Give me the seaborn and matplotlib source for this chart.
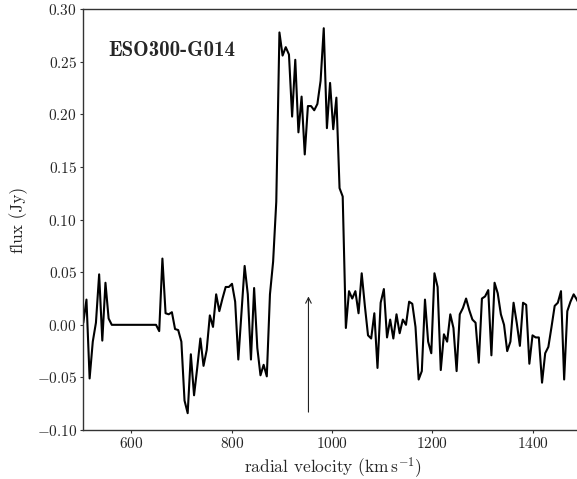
import matplotlib
matplotlib.use("Agg")
import matplotlib.pyplot as plt
import seaborn as sns
import pandas as pd

# ---- data -------------------------------------------------------------
velocity = [
    503.9, 510.2, 516.5, 522.8, 529.1, 535.5, 541.8, 548.1, 554.4, 560.7,
    567.0, 573.3, 579.6, 585.9, 592.2, 598.6, 604.9, 611.2, 617.5, 623.8,
    630.1, 636.4, 642.7, 649.0, 655.3, 661.7, 668.0, 674.3, 680.6, 686.9,
    693.2, 699.5, 705.8, 712.1, 718.4, 724.8, 731.1, 737.4, 743.7, 750.0,
    756.3, 762.6, 768.9, 775.2, 781.5, 787.9, 794.2, 800.5, 806.8, 813.1,
    819.4, 825.7, 832.0, 838.3, 844.6, 851.0, 857.3, 863.6, 869.9, 876.2,
    882.5, 888.8, 895.1, 901.4, 907.7, 914.1, 920.4, 926.7, 933.0, 939.3,
    945.6, 951.9, 958.2, 964.5, 970.8, 977.2, 983.5, 989.8, 996.1, 1002.4,
    1008.7, 1015.0, 1021.3, 1027.6, 1033.9, 1040.3, 1046.6, 1052.9, 1059.2, 1065.5,
    1071.8, 1078.1, 1084.4, 1090.7, 1097.0, 1103.4, 1109.7, 1116.0, 1122.3, 1128.6,
    1134.9, 1141.2, 1147.5, 1153.8, 1160.1, 1166.5, 1172.8, 1179.1, 1185.4, 1191.7,
    1198.0, 1204.3, 1210.6, 1216.9, 1223.2, 1229.6, 1235.9, 1242.2, 1248.5, 1254.8,
    1261.1, 1267.4, 1273.7, 1280.0, 1286.3, 1292.7, 1299.0, 1305.3, 1311.6, 1317.9,
    1324.2, 1330.5, 1336.8, 1343.1, 1349.4, 1355.8, 1362.1, 1368.4, 1374.7, 1381.0,
    1387.3, 1393.6, 1399.9, 1406.2, 1412.5, 1418.9, 1425.2, 1431.5, 1437.8, 1444.1,
    1450.4, 1456.7, 1463.0, 1469.3, 1475.6, 1482.0, 1488.3, 1494.6,
]

flux = [
    0.002, 0.024, -0.051, -0.016, 0.002, 0.048, -0.015, 0.040, 0.006, 0.000,
    0.000, 0.000, 0.000, 0.000, 0.000, 0.000, 0.000, 0.000, 0.000, 0.000,
    0.000, 0.000, 0.000, 0.000, -0.006, 0.063, 0.011, 0.010, 0.012, -0.004,
    -0.005, -0.016, -0.072, -0.084, -0.028, -0.067, -0.041, -0.013, -0.039, -0.024,
    0.009, -0.002, 0.029, 0.013, 0.025, 0.036, 0.036, 0.039, 0.022, -0.033,
    0.011, 0.056, 0.029, -0.033, 0.035, -0.022, -0.048, -0.038, -0.049, 0.029,
    0.060, 0.117, 0.278, 0.256, 0.264, 0.257, 0.198, 0.252, 0.183, 0.217,
    0.162, 0.208, 0.208, 0.204, 0.210, 0.232, 0.282, 0.187, 0.230, 0.186,
    0.216, 0.130, 0.122, -0.003, 0.032, 0.025, 0.032, 0.011, 0.049, 0.018,
    -0.010, -0.013, 0.011, -0.041, 0.021, 0.034, -0.012, 0.005, -0.013, 0.010,
    -0.008, 0.005, 0.000, 0.022, 0.020, -0.002, -0.052, -0.044, 0.024, -0.016,
    -0.027, 0.049, 0.036, -0.043, -0.009, -0.016, 0.010, -0.003, -0.044, 0.010,
    0.016, 0.025, 0.014, 0.005, 0.002, -0.036, 0.025, 0.027, 0.033, -0.029,
    0.040, 0.030, 0.010, 0.000, -0.025, -0.016, 0.021, 0.002, -0.020, 0.021,
    0.019, -0.037, -0.010, -0.012, -0.012, -0.055, -0.027, -0.021, -0.002, 0.018,
    0.021, 0.032, -0.052, 0.013, 0.022, 0.029, 0.024, 0.018,
]

galaxy_name = "ESO300-G014"
arrow_velocity = 953.0
arrow_range = (-0.083, 0.027)
y_ticks = [-0.10, -0.05, 0.00, 0.05, 0.10, 0.15, 0.20, 0.25, 0.30]
x_ticks = [600, 800, 1000, 1200, 1400]

df = pd.DataFrame({"velocity": velocity, "flux": flux})

# ---- style ------------------------------------------------------------
sns.set_style("ticks")
plt.rcParams["font.family"] = "serif"
plt.rcParams["font.serif"] = ["cmr10", "DejaVu Serif"]
plt.rcParams["mathtext.fontset"] = "cm"
plt.rcParams["axes.formatter.use_mathtext"] = True
plt.rcParams["axes.unicode_minus"] = True

fig = plt.figure(figsize=(5.77, 4.79), dpi=100)
ax = fig.add_axes([83.3 / 577, 1 - 430 / 479, 499.4 / 577, 420.7 / 479])

sns.lineplot(data=df, x="velocity", y="flux", ax=ax, color="black",
             linewidth=1.5, estimator=None, sort=False)

ax.annotate("", xy=(arrow_velocity, arrow_range[1]),
            xytext=(arrow_velocity, arrow_range[0]),
            arrowprops=dict(arrowstyle="->", lw=0.8, color="#222222",
                            mutation_scale=10, shrinkA=0, shrinkB=0))

ax.text(0.0505, 0.903, galaxy_name, transform=ax.transAxes,
        fontsize=15, fontfamily="cmb10", ha="left", va="center")

ax.set_xlim(503.9, 1500)
ax.set_ylim(-0.10, 0.30)
ax.set_xticks(x_ticks)
ax.set_yticks(y_ticks)
ax.set_yticklabels([f"${v:.2f}$" for v in y_ticks])
ax.set_xticklabels([f"${v}$" for v in x_ticks])

ax.tick_params(axis="both", labelsize=11, length=2, width=0.8, pad=2.5,
               color="#333333")
ax.set_xlabel(r"radial velocity (km$\,$s$^{-1}$)", fontsize=12.5, labelpad=3)
ax.set_ylabel("flux (Jy)", fontsize=12.5, labelpad=6)

for side in ["left", "bottom", "top", "right"]:
    ax.spines[side].set_color("#333333")
    ax.spines[side].set_linewidth(1.0)

fig.savefig("out.png", dpi=100)
